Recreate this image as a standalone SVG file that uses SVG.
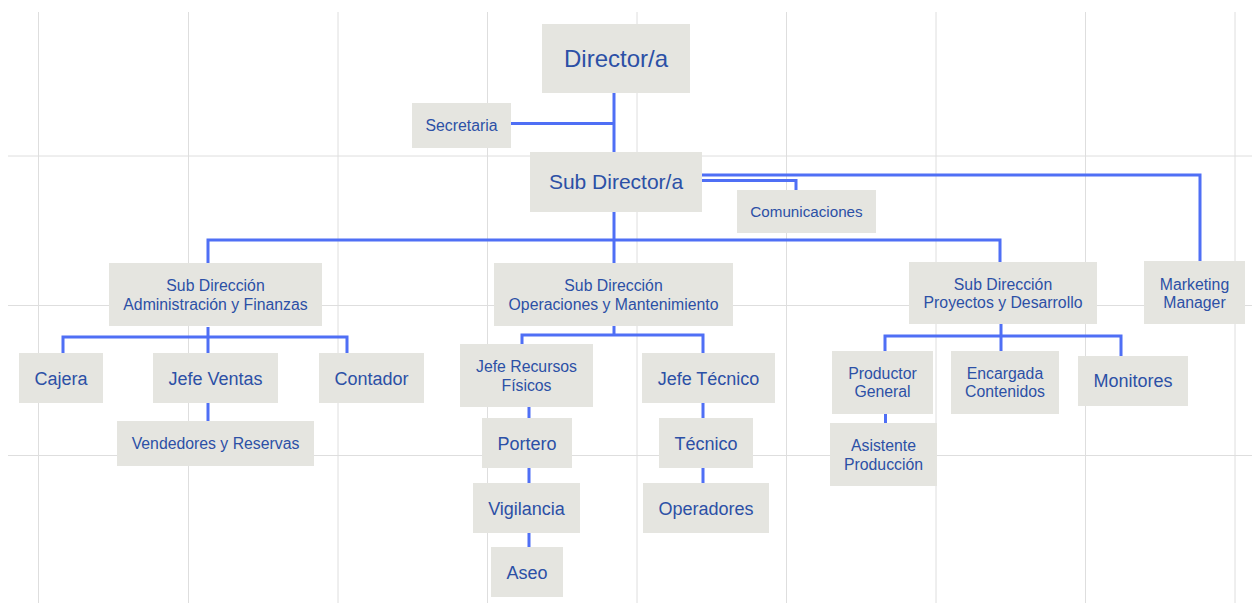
<svg xmlns="http://www.w3.org/2000/svg" width="1252" height="603" viewBox="0 0 1252 603">
<style>
.grid line{stroke:#dedede;stroke-width:1}
.node rect{fill:#e5e5e0}
.node text{font-family:"Liberation Sans",Arial,sans-serif;fill:#2c50a6;text-anchor:middle}
.s{font-size:15.8px}
.m{font-size:18px}
.conn path{fill:none;stroke:#4f6ff5;stroke-width:3;stroke-linejoin:miter}
</style>
<rect width="1252" height="603" fill="#ffffff"/>
<g class="grid">
<line x1="38.5" y1="12" x2="38.5" y2="603"/>
<line x1="188.5" y1="12" x2="188.5" y2="603"/>
<line x1="338" y1="12" x2="338" y2="603"/>
<line x1="487.5" y1="12" x2="487.5" y2="603"/>
<line x1="637" y1="12" x2="637" y2="603"/>
<line x1="786.5" y1="12" x2="786.5" y2="603"/>
<line x1="936" y1="12" x2="936" y2="603"/>
<line x1="1085.5" y1="12" x2="1085.5" y2="603"/>
<line x1="1235" y1="12" x2="1235" y2="603"/>
<line x1="8" y1="156" x2="1252" y2="156"/>
<line x1="8" y1="305.5" x2="1252" y2="305.5"/>
<line x1="8" y1="455.5" x2="1252" y2="455.5"/>
</g>
<g class="conn">
<path d="M614 93V152"/>
<path d="M511 123.5H614"/>
<path d="M702 175H1200V261"/>
<path d="M702 180.5H796V190"/>
<path d="M614 212V263"/>
<path d="M208 263V240H1000V262"/>
<path d="M208 327V337"/>
<path d="M63 353V337H347V353"/>
<path d="M208 337V353"/>
<path d="M208 403V421"/>
<path d="M614 326V335"/>
<path d="M522 344V335H703V353"/>
<path d="M529 407V418M529 468V483M529 533V547"/>
<path d="M703 403V418M703 468V483"/>
<path d="M1001 324V336"/>
<path d="M885 351V336H1121V356"/>
<path d="M1001 336V351"/>
<path d="M885.5 414V423"/>
</g>
<g id="director" class="node"><rect x="542" y="24" width="148" height="69"/><text x="616" y="66.7" style="font-size:24px">Director/a</text></g>
<g id="secretaria" class="node"><rect x="412" y="103" width="99" height="45"/><text class="s" x="461.5" y="130.8">Secretaria</text></g>
<g id="subdirector" class="node"><rect x="530" y="152" width="172" height="60"/><text x="616" y="189" style="font-size:21px">Sub Director/a</text></g>
<g id="comunicaciones" class="node"><rect x="737" y="190" width="139" height="43"/><text x="806.5" y="216.8" style="font-size:15.2px">Comunicaciones</text></g>
<g id="marketing" class="node"><rect x="1144" y="261" width="101" height="63"/><text class="s" x="1194.5" y="289.5">Marketing</text><text class="s" x="1194.5" y="308.2">Manager</text></g>
<g id="sd-admin" class="node"><rect x="109" y="263" width="213" height="63"/><text class="s" x="215.5" y="291.2">Sub Dirección</text><text class="s" x="215.5" y="309.8">Administración y Finanzas</text></g>
<g id="sd-oper" class="node"><rect x="494" y="263" width="239" height="63"/><text class="s" x="613.5" y="291.2">Sub Dirección</text><text class="s" x="613.5" y="309.8">Operaciones y Mantenimiento</text></g>
<g id="sd-proy" class="node"><rect x="909" y="262" width="188" height="62"/><text class="s" x="1003" y="289.5">Sub Dirección</text><text class="s" x="1003" y="308.2">Proyectos y Desarrollo</text></g>
<g id="cajera" class="node"><rect x="19" y="353" width="84" height="50"/><text class="m" x="61" y="384.6">Cajera</text></g>
<g id="jefe-ventas" class="node"><rect x="153" y="353" width="125" height="50"/><text class="m" x="215.5" y="384.6">Jefe Ventas</text></g>
<g id="contador" class="node"><rect x="319" y="353" width="105" height="50"/><text class="m" x="371.5" y="384.6">Contador</text></g>
<g id="vendedores" class="node"><rect x="117" y="421" width="197" height="45"/><text class="s" x="215.5" y="448.8">Vendedores y Reservas</text></g>
<g id="jefe-recursos" class="node"><rect x="460" y="344" width="133" height="63"/><text class="s" x="526.5" y="372.2">Jefe Recursos</text><text class="s" x="526.5" y="390.5">Físicos</text></g>
<g id="jefe-tecnico" class="node"><rect x="642" y="353" width="133" height="50"/><text class="m" x="708.5" y="385.3">Jefe Técnico</text></g>
<g id="portero" class="node"><rect x="482" y="418" width="90" height="50"/><text class="m" x="527" y="449.6">Portero</text></g>
<g id="vigilancia" class="node"><rect x="473" y="483" width="107" height="50"/><text class="m" x="526.5" y="514.6">Vigilancia</text></g>
<g id="aseo" class="node"><rect x="491" y="547" width="72" height="50"/><text class="m" x="527" y="578.6">Aseo</text></g>
<g id="tecnico" class="node"><rect x="659" y="418" width="94" height="50"/><text class="m" x="706" y="449.6">Técnico</text></g>
<g id="operadores" class="node"><rect x="643" y="483" width="126" height="50"/><text class="m" x="706" y="514.6">Operadores</text></g>
<g id="productor" class="node"><rect x="832" y="351" width="101" height="63"/><text class="s" x="882.5" y="378.8">Productor</text><text class="s" x="882.5" y="397.2">General</text></g>
<g id="encargada" class="node"><rect x="951" y="351" width="108" height="63"/><text class="s" x="1005" y="378.8">Encargada</text><text class="s" x="1005" y="397.2">Contenidos</text></g>
<g id="monitores" class="node"><rect x="1078" y="356" width="110" height="50"/><text class="m" x="1133" y="387.3">Monitores</text></g>
<g id="asistente" class="node"><rect x="830" y="423" width="107" height="63"/><text class="s" x="883.5" y="451.2">Asistente</text><text class="s" x="883.5" y="469.5">Producción</text></g>
</svg>
